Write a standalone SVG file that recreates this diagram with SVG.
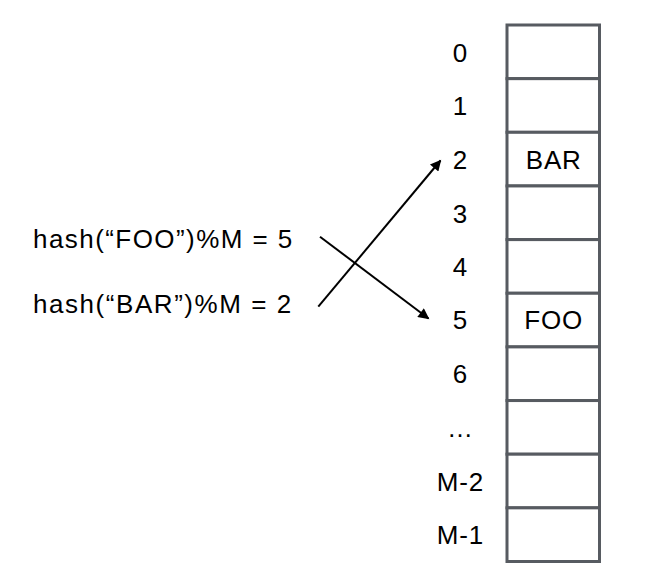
<svg xmlns="http://www.w3.org/2000/svg" width="653" height="588" viewBox="0 0 653 588">
<style>
text{font-family:"Liberation Sans",Arial,sans-serif;font-size:26px;fill:#000;letter-spacing:0.8px}
.idx{text-anchor:middle}
.cell{fill:#fff;stroke:#575b61;stroke-width:3}
.conn{stroke:#000;stroke-width:2;fill:none;marker-end:url(#ah)}
</style>
<defs>
<marker id="ah" viewBox="0 0 10 10" refX="9" refY="5" markerWidth="6.5" markerHeight="5.5" markerUnits="strokeWidth" orient="auto">
<path d="M0,0 L10,5 L0,10 z" fill="#000"/>
</marker>
</defs>
<rect width="653" height="588" fill="#fff"/>
<g id="table">
<rect class="cell" x="507" y="25" width="92.5" height="53.65"/>
<rect class="cell" x="507" y="78.65" width="92.5" height="53.65"/>
<rect class="cell" x="507" y="132.3" width="92.5" height="53.65"/>
<rect class="cell" x="507" y="185.95" width="92.5" height="53.65"/>
<rect class="cell" x="507" y="239.6" width="92.5" height="53.65"/>
<rect class="cell" x="507" y="293.25" width="92.5" height="53.65"/>
<rect class="cell" x="507" y="346.9" width="92.5" height="53.65"/>
<rect class="cell" x="507" y="400.55" width="92.5" height="53.65"/>
<rect class="cell" x="507" y="454.2" width="92.5" height="53.65"/>
<rect class="cell" x="507" y="507.85" width="92.5" height="53.65"/>
<text class="idx" x="553.7" y="168.8">BAR</text>
<text class="idx" x="553.7" y="329.3">FOO</text>
</g>
<g id="indices">
<text class="idx" x="460.4" y="61.5">0</text>
<text class="idx" x="460.4" y="115.2">1</text>
<text class="idx" x="460.4" y="168.8">2</text>
<text class="idx" x="460.4" y="222.5">3</text>
<text class="idx" x="460.4" y="276.1">4</text>
<text class="idx" x="460.4" y="329.3">5</text>
<text class="idx" x="460.4" y="383.4">6</text>
<text class="idx" x="460.4" y="437">…</text>
<text class="idx" x="460.4" y="490.7">M-2</text>
<text class="idx" x="460.4" y="544.3">M-1</text>
</g>
<g id="hash-foo">
<text x="33" y="248.3" textLength="260" lengthAdjust="spacing">hash(“FOO”)%M = 5</text>
</g>
<g id="hash-bar">
<text x="33" y="313.3" textLength="259" lengthAdjust="spacing">hash(“BAR”)%M = 2</text>
</g>
<g id="connectors">
<line class="conn" x1="320" y1="236.7" x2="428.5" y2="318.5"/>
<line class="conn" x1="318.3" y1="306.7" x2="440.5" y2="160.5"/>
</g>
</svg>
